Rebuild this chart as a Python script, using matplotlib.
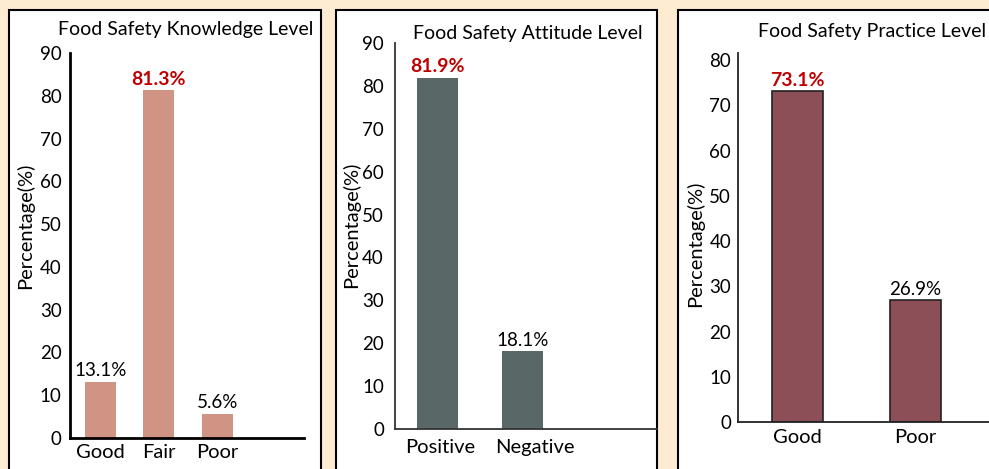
import matplotlib.pyplot as plt
import matplotlib.transforms as mtransforms
from matplotlib.patches import Rectangle

# data
knowledge_cats = ["Good", "Fair", "Poor"]
knowledge_vals = [13.1, 81.3, 5.6]
attitude_cats = ["Positive", "Negative"]
attitude_vals = [81.9, 18.1]
practice_cats = ["Good", "Poor"]
practice_vals = [73.1, 26.9]

W, H = 989, 469
plt.rcParams['font.family'] = ['Lato', 'DejaVu Sans']

fig = plt.figure(figsize=(W / 100, H / 100), dpi=100)
fig.patch.set_facecolor('#FDEBD2')


def px_box(left, top, right, bottom):
    # pixel box -> figure fraction [l, b, w, h]
    return [left / W, (H - bottom) / H, (right - left) / W, (bottom - top) / H]


# white panels with black frame (run off the bottom / right edge)
for l, r in [(9, 321), (336, 657), (678, 1010)]:
    fig.patches.append(Rectangle((l / W, -0.1), (r - l) / W, (H - 10) / H + 0.1,
                                 transform=fig.transFigure, facecolor='white',
                                 edgecolor='black', linewidth=1.5, zorder=-10))


def panel(box, cats, vals, color, xlim, ylim, width, highlight, spine_w,
          spine_c, xpad, ypad, edge=None):
    ax = fig.add_axes(px_box(*box))
    ax.set_facecolor('none')
    x = range(len(cats))
    ax.bar(x, vals, width=width, color=color,
           edgecolor=edge if edge else color, linewidth=1.2 if edge else 0)
    ax.set_xlim(*xlim)
    ax.set_ylim(*ylim)
    ax.set_xticks(list(x))
    ax.set_xticklabels(cats, fontsize=14.5)
    ax.set_yticks(range(0, int(ylim[1]) + 1, 10))
    ax.tick_params(axis='both', length=0)
    ax.tick_params(axis='y', pad=ypad, labelsize=13.5)
    ax.tick_params(axis='x', pad=xpad)
    for s in ['top', 'right']:
        ax.spines[s].set_visible(False)
    for s in ['left', 'bottom']:
        ax.spines[s].set_linewidth(spine_w)
        ax.spines[s].set_color(spine_c)
    for i, v in enumerate(vals):
        if i == highlight:
            ax.annotate("{:.1f}%".format(v), (i, v), xytext=(0, 4),
                        textcoords='offset points', ha='center', va='baseline',
                        fontsize=14, color='#C00000', fontweight='bold')
        else:
            ax.annotate("{:.1f}%".format(v), (i, v), xytext=(0, 4),
                        textcoords='offset points', ha='center', va='baseline',
                        fontsize=13.5, color='black')
    return ax


panel((70, 53, 304, 438), knowledge_cats, knowledge_vals, '#D09484',
      (-0.52, 3.48), (0, 90), 0.53, 1, 2.0, 'black', 4, 6)
ax2 = panel((395, 43, 657, 429), attitude_cats, attitude_vals, '#5A6767',
            (-0.5, 2.58), (0, 90), 0.49, 0, 1.3, '#333333', 7, 8)
panel((738, 53, 1010, 422), practice_cats, practice_vals, '#8C4F58',
      (-0.5, 1.8), (0, 81.6), 0.43, 0, 1.3, '#222222', 5, 5, edge='#222222')

# in the reference the attitude labels sit a bit right of their bars
for lab, dx in zip(ax2.get_xticklabels(), [3, 12]):
    lab.set_transform(lab.get_transform() +
                      mtransforms.ScaledTranslation(dx / 100, 0, fig.dpi_scale_trans))

# titles
fig.text(186 / W, 1 - 29 / H, "Food Safety Knowledge Level", ha='center', va='center', fontsize=14)
fig.text(528 / W, 1 - 33 / H, "Food Safety Attitude Level", ha='center', va='center', fontsize=14)
fig.text(872 / W, 1 - 32 / H, "Food Safety Practice Level", ha='center', va='center', fontsize=14)

# y labels
fig.text(25 / W, 1 - 226 / H, "Percentage(%)", rotation=90, ha='center', va='center', fontsize=14.5)
fig.text(351 / W, 1 - 225 / H, "Percentage(%)", rotation=90, ha='center', va='center', fontsize=14.5)
fig.text(695 / W, 1 - 244 / H, "Percentage(%)", rotation=90, ha='center', va='center', fontsize=14.5)

fig.savefig("out.png", dpi=100, facecolor=fig.get_facecolor())
